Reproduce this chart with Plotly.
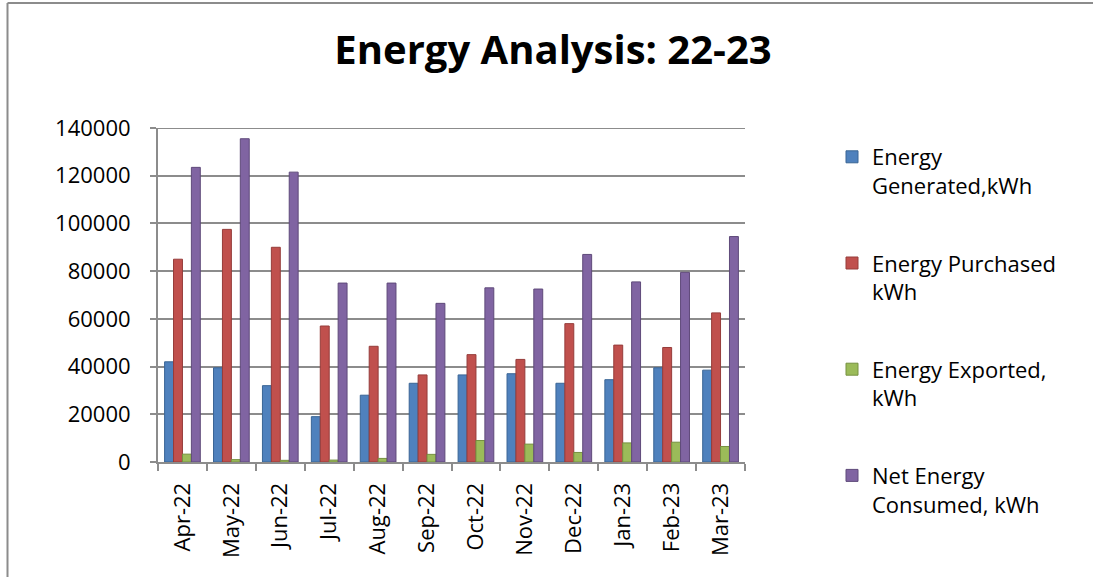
import plotly.graph_objects as go

months = ["Apr-22", "May-22", "Jun-22", "Jul-22", "Aug-22", "Sep-22",
          "Oct-22", "Nov-22", "Dec-22", "Jan-23", "Feb-23", "Mar-23"]
generated = [42000, 39500, 32000, 19000, 28000, 33000, 36500, 37000, 33000, 34500, 39500, 38500]
purchased = [85000, 97500, 90000, 57000, 48500, 36500, 45000, 43000, 58000, 49000, 48000, 62500]
exported = [3300, 1000, 700, 800, 1500, 3200, 9000, 7500, 4000, 8000, 8300, 6500]
net_consumed = [123500, 135500, 121500, 75000, 75000, 66500, 73000, 72500, 87000, 75500, 79500, 94500]

series_names = ["Energy<br>Generated,kWh", "Energy Purchased<br>kWh",
                "Energy Exported,<br>kWh", "Net Energy<br>Consumed, kWh"]
series_values = [generated, purchased, exported, net_consumed]
colors = ["#4F81BD", "#C0504D", "#9BBB59", "#8064A2"]
edge_colors = ["#3A6595", "#963C3A", "#769140", "#5F4A7A"]

FONT = "Open Sans"
FS = 22
fig = go.Figure()
for i, (name, vals) in enumerate(zip(series_names, series_values)):
    fig.add_trace(go.Bar(
        x=months, y=vals, name=name,
        marker=dict(color=colors[i], line=dict(color=edge_colors[i], width=1)),
        legendgroup=f"g{i}",
    ))

W, H = 1093, 577
L, R, T, B = 158, 348, 128, 115
pw, ph = W - L - R, H - T - B

def px(x):
    return (x - L) / pw

def py(y):
    return (H - B - y) / ph

border = "#8C8C8C"
shapes = [
    dict(type="line", xref="paper", yref="paper", x0=px(7.5), x1=px(1100), y0=py(3), y1=py(3),
         line=dict(color=border, width=2)),
    dict(type="line", xref="paper", yref="paper", x0=px(7.5), x1=px(7.5), y0=py(3), y1=py(590),
         line=dict(color=border, width=2)),
    dict(type="line", xref="paper", yref="y", x0=0, x1=1, y0=140000, y1=140000,
         line=dict(color=border, width=2)),
]

fig.update_layout(
    width=W, height=H,
    margin=dict(l=L, r=R, t=T, b=B, autoexpand=False),
    paper_bgcolor="white", plot_bgcolor="white",
    font=dict(family=FONT, color="black", size=FS),
    title=dict(text="<b>Energy Analysis: 22-23</b>", x=0.506, xref="container", xanchor="center",
               y=1 - 50 / H, yref="container", yanchor="middle",
               font=dict(size=40, family=FONT, color="black")),
    barmode="group", bargap=0.27, bargroupgap=0.0,
    legend=dict(x=px(832), y=py(136), xanchor="left", yanchor="top",
                font=dict(size=FS, family=FONT), tracegroupgap=46, valign="top",
                bgcolor="rgba(0,0,0,0)", itemwidth=30, maxheight=540),
    shapes=shapes,
    showlegend=True,
)
fig.update_xaxes(type="category", showline=True, linecolor=border, linewidth=2,
                 ticks="outside", tickson="boundaries", ticklen=7, tickcolor=border, tickwidth=2,
                 tickangle=-90, tickfont=dict(size=FS, family=FONT), showgrid=False,
                 automargin=False, ticklabelstandoff=10)
fig.update_yaxes(range=[0, 140000], dtick=20000, showline=True, linecolor=border, linewidth=2,
                 ticks="outside", ticklen=6, tickcolor=border, tickwidth=2,
                 showgrid=True, gridcolor=border, gridwidth=2, zeroline=False,
                 tickfont=dict(size=FS, family=FONT), ticklabelstandoff=15, tickformat="d",
                 automargin=False)

fig.write_html("out.html", config={"displayModeBar": False},
               post_script="document.body.style.margin='0';document.body.style.overflow='hidden';")
